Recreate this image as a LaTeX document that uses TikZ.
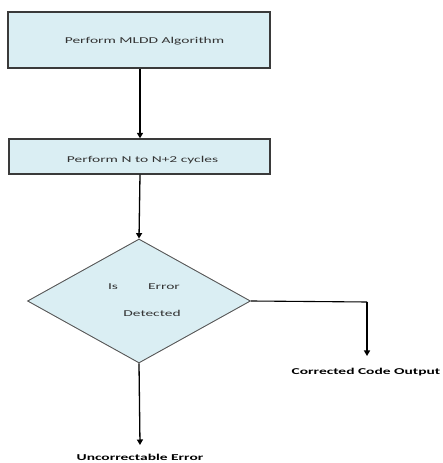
\documentclass[tikz,border=0pt]{standalone}
\usepackage{fontspec}
\setmainfont[FakeStretch=1.72]{Carlito}
\usetikzlibrary{arrows.meta,shapes.geometric}
\definecolor{boxfill}{HTML}{DAEEF3}
\definecolor{boxline}{HTML}{3A3A3A}
\definecolor{dialine}{HTML}{555555}
\tikzset{
  procbox/.style={draw=boxline,line width=1.3pt,fill=boxfill,inner sep=0pt},
  decision/.style={draw=dialine,line width=0.9pt,fill=boxfill,diamond,inner sep=0pt},
  boxtext/.style={font=\fontsize{9}{11}\selectfont,text=black!80,inner sep=0pt},
  outlabel/.style={font=\bfseries\fontsize{9}{11}\selectfont,inner sep=0pt},
  flow/.style={line width=1.3pt,-{Triangle[length=5.5pt,width=6pt]}},
  plainline/.style={line width=1.1pt}
}
\begin{document}
\begin{tikzpicture}[x=1pt,y=1pt]
\useasboundingbox (0,0) rectangle (443,463);
\node[procbox,minimum width=262pt,minimum height=56pt] (b1) at (139,423) {};
\node[boxtext] (t1) at (144.5,422) {Perform MLDD Algorithm};
\node[procbox,minimum width=261pt,minimum height=35pt] (b2) at (139.5,306.5) {};
\node[boxtext] (t2) at (142.5,303) {Perform N to N+2 cycles};
\node[decision,minimum width=223pt,minimum height=124pt,aspect=1.8] (d) at (139,162) {};
\node[boxtext] (is) at (113,176) {Is};
\node[boxtext] (err) at (164,176) {Error};
\node[boxtext] (det) at (152,150) {Detected};
\coordinate (c1) at (367,161);
\coordinate (c2) at (367,107);
\coordinate (c3) at (140,18);
\node[outlabel] (cco) at (366,91) {Corrected Code Output};
\node[outlabel] (ue) at (140,6) {Uncorrectable Error};
\draw[flow] (b1.south -| 140,0) -- (b2.north -| 140,0);
\draw[flow] (b2.south -| 140,0) -- (d.north);
\draw[plainline] (d.east) -- (c1);
\draw[flow] (c1) -- (c2);
\draw[flow] (d.south) -- (c3);
\end{tikzpicture}
\end{document}
